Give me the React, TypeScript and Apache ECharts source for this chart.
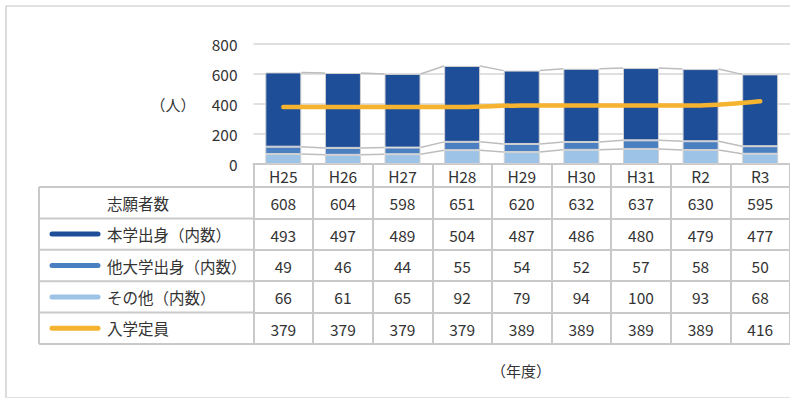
import React, { useEffect, useRef } from "react";
import * as echarts from "echarts";

const categories = ["H25", "H26", "H27", "H28", "H29", "H30", "H31", "R2", "R3"];
const applicants = [608, 604, 598, 651, 620, 632, 637, 630, 595];
const ownGrad = [493, 497, 489, 504, 487, 486, 480, 479, 477];
const otherUniv = [49, 46, 44, 55, 54, 52, 57, 58, 50];
const others = [66, 61, 65, 92, 79, 94, 100, 93, 68];
const capacity = [379, 379, 379, 379, 389, 389, 389, 389, 416];
const rowLabels = ["志願者数", "本学出身（内数）", "他大学出身（内数）", "その他（内数）", "入学定員"];
const yMin = 0;
const yMax = 800;
const yStep = 200;

const W = 790;
const H = 399;
const GRID_LEFT = 253.5;
const GRID_RIGHT_EDGE = 797;
const GRID_TOP = 43.5;
const AXIS_Y = 164;
const HEADER_H = 23;
const ROW_H = 31.4;
const TABLE_LEFT = 39;
const BAR_W = 36;

const C_DARK = "#1f4e99";
const C_MID = "#4a7fc2";
const C_LIGHT = "#9dc3e6";
const C_ORANGE = "#f5b32f";
const C_TABLE = "#c9c9c9";
const C_TEXT = "#333333";
const FONT = "'Noto Sans CJK JP', 'Noto Sans', sans-serif";

export default function App() {
  const ref = useRef<HTMLDivElement>(null);
  useEffect(() => {
    if (!ref.current) return;
    const chart = echarts.init(ref.current, null, { renderer: "svg" });

    const cum1 = others.map((v) => v);
    const cum2 = others.map((v, i) => v + otherUniv[i]);
    const cum3 = others.map((v, i) => v + otherUniv[i] + ownGrad[i]);
    const seriesLineData: number[][] = [];
    [cum1, cum2, cum3].forEach((c) => {
      for (let i = 0; i < c.length - 1; i++) seriesLineData.push([i, c[i], c[i + 1]]);
    });

    const rowData = [applicants, ownGrad, otherUniv, others, capacity];
    const swatchColors = [null, C_DARK, C_MID, C_LIGHT, C_ORANGE];

    const xAxes: any[] = [
      {
        type: "category",
        data: categories,
        position: "bottom",
        gridIndex: 0,
        axisLine: { show: true, lineStyle: { color: C_TABLE, width: 2 } },
        axisTick: { show: true, interval: 0, length: HEADER_H, lineStyle: { color: C_TABLE, width: 2 } },
        axisLabel: { interval: 0, margin: 4, fontSize: 15.5, color: C_TEXT, fontFamily: FONT },
      },
    ];
    rowData.forEach((row, k) => {
      xAxes.push({
        type: "category",
        data: categories,
        position: "bottom",
        gridIndex: 0,
        offset: HEADER_H + ROW_H * k,
        axisLine: { show: true, lineStyle: { color: C_TABLE, width: 2 } },
        axisTick: { show: true, interval: 0, length: ROW_H, lineStyle: { color: C_TABLE, width: 2 } },
        axisLabel: {
          interval: 0,
          margin: 8.5,
          fontSize: 15.5,
          color: C_TEXT,
          fontFamily: FONT,
          formatter: (_v: string, idx: number) => String(row[idx]),
        },
        splitLine: { show: false },
      });
    });
    xAxes.push({
      type: "category",
      data: categories,
      position: "bottom",
      gridIndex: 0,
      offset: HEADER_H + ROW_H * rowData.length,
      axisLine: { show: true, lineStyle: { color: C_TABLE, width: 2 } },
      axisTick: { show: false },
      axisLabel: { show: false },
    });

    const graphics: any[] = [];
    graphics.push({ type: "line", shape: { x1: 6, y1: 6, x2: W, y2: 6 }, style: { stroke: "#c4c4c4", lineWidth: 1.2 } });
    graphics.push({ type: "line", shape: { x1: 6, y1: 6, x2: 6, y2: 398 }, style: { stroke: "#c4c4c4", lineWidth: 1.2 } });
    graphics.push({ type: "line", shape: { x1: 6, y1: 397.5, x2: W, y2: 397.5 }, style: { stroke: "#e2e2e2", lineWidth: 1 } });
    const tableTop = AXIS_Y + HEADER_H;
    for (let k = 0; k <= rowData.length; k++) {
      const y = tableTop + ROW_H * k;
      graphics.push({ type: "line", shape: { x1: TABLE_LEFT, y1: y, x2: GRID_LEFT, y2: y }, style: { stroke: C_TABLE, lineWidth: 2 } });
    }
    graphics.push({
      type: "line",
      shape: { x1: TABLE_LEFT, y1: tableTop, x2: TABLE_LEFT, y2: tableTop + ROW_H * rowData.length },
      style: { stroke: C_TABLE, lineWidth: 2 },
    });
    rowLabels.forEach((label, k) => {
      const cy = tableTop + ROW_H * k + ROW_H / 2;
      const sc = swatchColors[k];
      if (sc) {
        graphics.push({ type: "line", shape: { x1: 52, y1: cy, x2: 98, y2: cy }, style: { stroke: sc, lineWidth: 5, lineCap: "round" } });
      }
      graphics.push({
        type: "text",
        x: 107,
        y: cy,
        style: { text: label, fontSize: 15.5, fill: C_TEXT, fontFamily: FONT, align: "left", verticalAlign: "middle" },
      });
    });
    graphics.push({
      type: "text",
      x: 173,
      y: 104,
      style: { text: "（人）", fontSize: 15, fill: C_TEXT, fontFamily: FONT, align: "center", verticalAlign: "middle" },
    });
    graphics.push({
      type: "text",
      x: 521,
      y: 370,
      style: { text: "（年度）", fontSize: 15, fill: C_TEXT, fontFamily: FONT, align: "center", verticalAlign: "middle" },
    });

    const barStyle = (color: string) => ({ color, borderColor: "#d0d0d0", borderWidth: 1 });

    chart.setOption({
      animation: false,
      backgroundColor: "#ffffff",
      grid: { left: GRID_LEFT, right: W - GRID_RIGHT_EDGE, top: GRID_TOP, bottom: H - AXIS_Y, containLabel: false },
      xAxis: xAxes,
      yAxis: {
        type: "value",
        min: yMin,
        max: yMax,
        interval: yStep,
        axisLine: { show: false },
        axisTick: { show: false },
        axisLabel: { margin: 16, fontSize: 15.5, color: C_TEXT, fontFamily: FONT },
        splitLine: { lineStyle: { color: "#d6d6d6", width: 1.5 } },
      },
      series: [
        { name: "その他（内数）", type: "bar", stack: "a", barWidth: BAR_W, data: others, itemStyle: barStyle(C_LIGHT) },
        { name: "他大学出身（内数）", type: "bar", stack: "a", barWidth: BAR_W, data: otherUniv, itemStyle: barStyle(C_MID) },
        { name: "本学出身（内数）", type: "bar", stack: "a", barWidth: BAR_W, data: ownGrad, itemStyle: barStyle(C_DARK) },
        {
          name: "seriesLines",
          type: "custom",
          data: seriesLineData,
          encode: { x: 0, y: 1 },
          z: 1,
          renderItem: (_p: any, api: any) => {
            const i = api.value(0);
            const a = api.coord([i, api.value(1)]);
            const b = api.coord([i + 1, api.value(2)]);
            return {
              type: "line",
              shape: { x1: a[0] + BAR_W / 2, y1: a[1], x2: b[0] - BAR_W / 2, y2: b[1] },
              style: { stroke: "#bdbdbd", lineWidth: 1.5 },
            };
          },
        },
        {
          name: "入学定員",
          type: "line",
          data: capacity,
          symbol: "none",
          smooth: 0.3,
          z: 5,
          lineStyle: { color: C_ORANGE, width: 4.5, cap: "round" },
          itemStyle: { color: C_ORANGE },
        },
      ],
      graphic: graphics,
    });
    return () => chart.dispose();
  }, []);
  return <div ref={ref} style={{ position: "absolute", left: 0, top: 0, width: W, height: H }} />;
}
